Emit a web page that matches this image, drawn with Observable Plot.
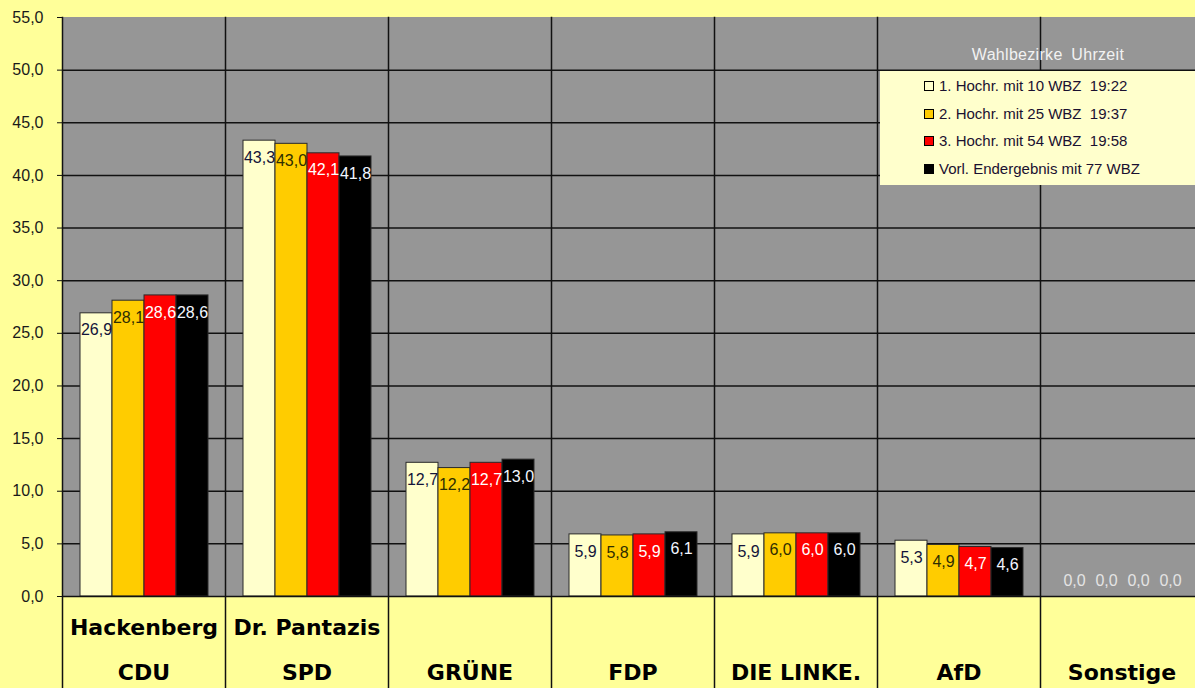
<!DOCTYPE html>
<html>
<head>
<meta charset="utf-8">
<script src="https://cdn.jsdelivr.net/npm/d3@7"></script>
<script src="https://cdn.jsdelivr.net/npm/@observablehq/plot@0.6"></script>
<style>
  html, body { margin: 0; padding: 0; background: #FFFF99; overflow: hidden; }
  #wrap { position: relative; width: 1195px; height: 688px; }
  #legtitle { position: absolute; left: 898px; width: 300px; top: 46px; text-align: center;
    font: 16px "Liberation Sans", Arial, sans-serif; color: #f2f2f2; word-spacing: 4px; letter-spacing: 0.3px; }
  #legend { position: absolute; left: 880px; top: 71px; width: 315px; height: 114px; background: #FFFFCC;
    font: 15px "Liberation Sans", Arial, sans-serif; color: #1a1030; }
  .item { position: absolute; left: 44px; height: 18px; line-height: 18px; white-space: pre; }
  .sw { display: inline-block; width: 8px; height: 8px; border: 1px solid #000; margin-right: 5px; vertical-align: 0px; }
</style>
</head>
<body>
<div id="wrap"></div>
<script>
const parties = ["CDU", "SPD", "GRÜNE", "FDP", "DIE LINKE.", "AfD", "Sonstige"];
const candidates = ["Hackenberg", "Dr. Pantazis", "", "", "", "", ""];
const seriesNames = [
  "1. Hochr. mit 10 WBZ  19:22",
  "2. Hochr. mit 25 WBZ  19:37",
  "3. Hochr. mit 54 WBZ  19:58",
  "Vorl. Endergebnis mit 77 WBZ"
];
const seriesColors = ["#FFFFCC", "#FFCC00", "#FF0000", "#000000"];
const labelColors = ["#14143a", "#2e2e00", "#FFFFFF", "#F2F6FF"];
const hochr1 = [26.9, 43.3, 12.7, 5.9, 5.9, 5.3, 0.0];
const hochr2 = [28.1, 43.0, 12.2, 5.8, 6.0, 4.9, 0.0];
const hochr3 = [28.6, 42.1, 12.7, 5.9, 6.0, 4.7, 0.0];
const endergebnis = [28.6, 41.8, 13.0, 6.1, 6.0, 4.6, 0.0];
const yTicks = [0, 5, 10, 15, 20, 25, 30, 35, 40, 45, 50, 55];
const legendTitle = "Wahlbezirke Uhrzeit";

const seriesValues = [hochr1, hochr2, hochr3, endergebnis];
const rows = [];
parties.forEach((p, i) => seriesNames.forEach((s, j) =>
  rows.push({party: p, series: s, value: seriesValues[j][i], si: j})));

const fmt = v => v.toFixed(1).replace(".", ",");
const catLabel = p => {
  const c = candidates[parties.indexOf(p)];
  return (c ? c : "") + "\n" + p;
};

const marks = [
  Plot.barY([55], {y: d => d, fill: "#969696"}),
  Plot.ruleY(yTicks.filter(t => t > 0 && t < 55), {stroke: "#111", strokeWidth: 1.5}),
  Plot.frame({anchor: "left", stroke: "#111", strokeWidth: 1.5}),
  Plot.barY(rows, {fx: "party", x: "series", y: "value", fill: "series", stroke: "#2a2a2a", strokeWidth: 1}),
  Plot.ruleY([0], {stroke: "#111", strokeWidth: 1.5})
];
seriesNames.forEach((s, j) => {
  marks.push(Plot.text(rows.filter(d => d.si === j && d.value > 0), {
    fx: "party", x: "series", y: "value", text: d => fmt(d.value), dy: 17,
    fill: labelColors[j], fontSize: 16
  }));
});
marks.push(Plot.text(rows.filter(d => d.value === 0), {
  fx: "party", x: "series", y: "value", text: d => fmt(d.value), dy: -16,
  fill: "#e4e4e4", fontSize: 16
}));
marks.push(Plot.text(parties, {
  fx: d => d, text: catLabel, frameAnchor: "bottom", lineAnchor: "middle", dy: -45,
  lineHeight: 2.05, fontSize: 22, fontWeight: "bold", fontFamily: "DejaVu Sans", fill: "#000"
}));
marks.push(Plot.axisY({
  ticks: yTicks, tickFormat: fmt, tickSize: 5, tickPadding: 14, fontSize: 16, label: null,
  line: true, stroke: "#111", color: "#1a1a1a"
}));

const chart = Plot.plot({
  width: 1195,
  height: 688,
  marginLeft: 62,
  marginRight: -8,
  marginTop: 17,
  marginBottom: 0,
  style: {background: "#FFFF99", fontFamily: "'Liberation Sans', Arial, sans-serif", fontSize: "16px", color: "#1a1a1a"},
  fx: {domain: parties, padding: 0, axis: null},
  x: {domain: seriesNames, paddingInner: 0, paddingOuter: 0.47, axis: null},
  y: {domain: [0, 55], range: [596, 17], axis: null, label: null},
  color: {domain: seriesNames, range: seriesColors},
  marks
});

const wrap = document.getElementById("wrap");
wrap.appendChild(chart);

const t = document.createElement("div");
t.id = "legtitle";
t.textContent = legendTitle;
wrap.appendChild(t);

const leg = document.createElement("div");
leg.id = "legend";
seriesNames.forEach((s, j) => {
  const it = document.createElement("div");
  it.className = "item";
  it.style.top = (6 + j * 27.7) + "px";
  const sw = document.createElement("span");
  sw.className = "sw";
  sw.style.background = seriesColors[j];
  it.appendChild(sw);
  it.appendChild(document.createTextNode(s));
  leg.appendChild(it);
});
wrap.appendChild(leg);
</script>
</body>
</html>
